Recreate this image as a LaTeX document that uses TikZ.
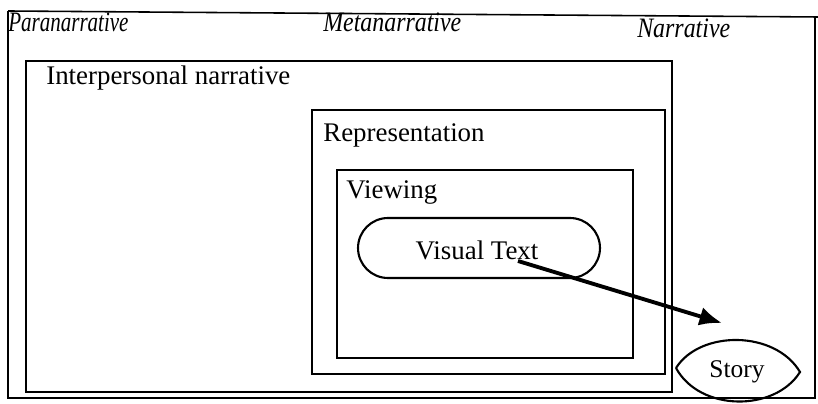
\documentclass[tikz,border=0pt]{standalone}
\usepackage{fontspec}
\setmainfont{Liberation Serif}
\usepackage{tikz}
\usetikzlibrary{shapes.misc,arrows.meta,calc,positioning}

\begin{document}
\begin{tikzpicture}[x=0.02cm, y=-0.02cm]
	\tikzstyle{every node} = [inner sep = 0pt]
	\tikzstyle{frame} = [draw = black, line width = 0.9pt]
	\tikzstyle{lvl} = [font = \fontsize{16}{18}\selectfont\itshape, anchor = west, xscale = 0.85]
	\tikzstyle{box} = [font = \fontsize{15.3}{17}\selectfont, anchor = west]
\useasboundingbox (0, 0) rectangle (818, 404);
% frames
	\path[frame] (8, 11) -- (818, 17);
	\path[frame] (8, 11) -- (8, 398) -- (815, 398) -- (815, 17);
	\path[frame] (26, 61) rectangle (672, 392);
	\path[frame] (312, 110) rectangle (665, 374);
	\path[frame] (337, 170) rectangle (633, 358);
% labels
\node[lvl, xscale = 0.88] (para) at (8, 22) {Paranarrative};
\node[lvl] (meta) at (323, 22) {Metanarrative};
\node[lvl] (narr) at (637, 28) {Narrative};
\node[box] (inter) at (46, 78) {Interpersonal narrative};
\node[box] (repr) at (323, 135) {Representation};
\node[box] (view) at (346, 193) {Viewing};
\node[draw = black, line width = 1.2pt, rounded rectangle, anchor = center,
	minimum width = 4.84cm, minimum height = 1.2cm] (vis) at (479, 248) {};
\node[box, anchor = center] (vistxt) at (477, 250) {Visual Text};
\node[font = \fontsize{14.5}{16}\selectfont] (story) at (737, 372) {Story};
	\path[draw, line width = 1.2pt] (676, 368) .. controls (700, 330) and (775, 330) .. (800, 372)
		.. controls (775, 412) and (700, 412) .. (676, 368);
% arrow
\coordinate (tail) at (518, 261);
\coordinate (head) at (722, 323);
	\path[draw, line width = 2.2pt, -{Latex[length = 4.5mm, width = 3.8mm]}] (tail) -- (head);
	\end{tikzpicture}
\end{document}
